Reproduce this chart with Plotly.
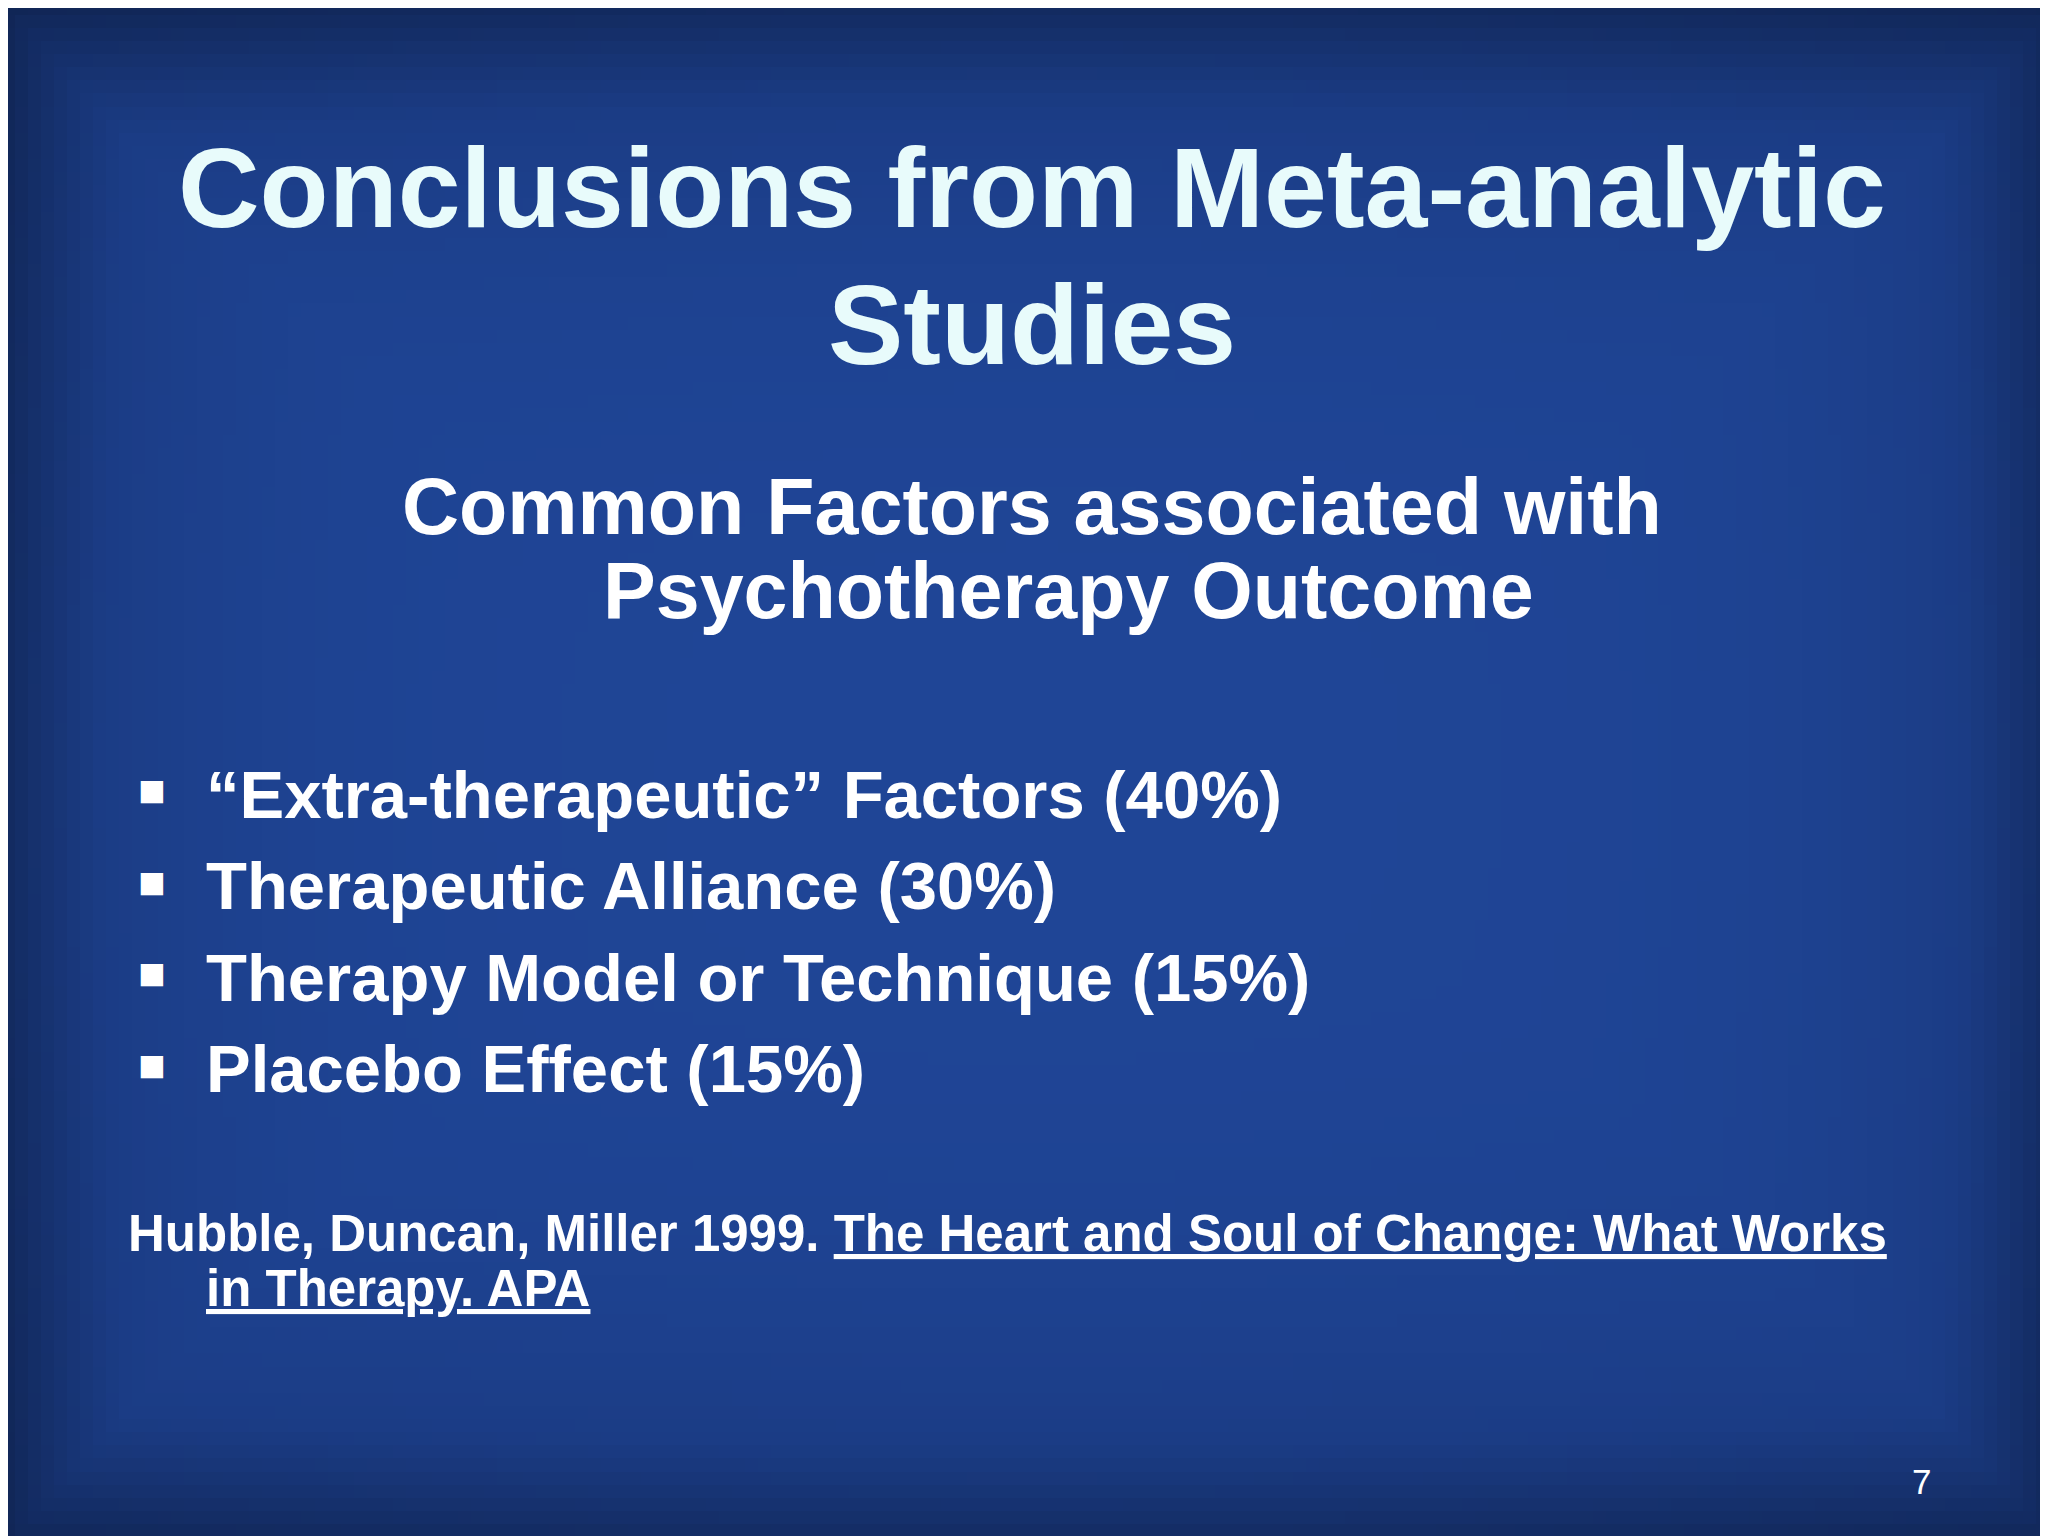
import numpy as np
import plotly.graph_objects as go

title_lines = ["Conclusions from Meta-analytic", "Studies"]
subtitle_lines = ["Common Factors associated with", "Psychotherapy Outcome"]
factors = ["“Extra-therapeutic” Factors", "Therapeutic Alliance", "Therapy Model or Technique", "Placebo Effect"]
percents = [40, 30, 15, 15]
citation_authors = "Hubble, Duncan, Miller 1999. "
citation_title_1 = "The Heart and Soul of Change: What Works"
citation_title_2 = "in Therapy. APA"
page_number = "7"

W, H = 1568, 1176
FONT = "Liberation Sans, Arial, sans-serif"

# background vignette
xs = np.linspace(-1, 1, 160)
ys = np.linspace(-1, 1, 120)
X, Y = np.meshgrid(xs, ys)
v = np.clip(np.maximum(np.abs(X) ** 6, np.abs(Y) ** 4) * 0.8 + 0.1 * (X**2 + Y**2), 0, 1)
fig = go.Figure(go.Heatmap(
    z=v, x=np.linspace(-10, W + 10, 160), y=np.linspace(-10, H + 10, 120),
    colorscale=[[0, "#1f4596"], [0.5, "#1b3c85"], [1, "#0f2350"]],
    showscale=False, hoverinfo="skip"))

ann = []
def add(text, x, y, size, color="white", xanchor="center"):
    ann.append(dict(text=text, x=x, y=y, xref="x", yref="y", showarrow=False,
                    xanchor=xanchor, yanchor="middle",
                    font=dict(family=FONT, size=size, color=color)))

TC = "#e8fbfb"
add("<b>%s</b>" % title_lines[0], 784, 138, 113, TC)
add("<b>%s</b>" % title_lines[1], 784, 243, 113, TC)
add("<b>%s</b>" % subtitle_lines[0], 784, 382, 79)
add("<b>%s</b>" % subtitle_lines[1], 812, 446, 79)
for i, (f, p) in enumerate(zip(factors, percents)):
    y = 602 + 70 * i
    add("■", 110, y - 3, 46, xanchor="center")
    add("<b>%s (%d%%)</b>" % (f, p), 150, y, 67, xanchor="left")
add("<b>%s<u>%s</u></b>" % (citation_authors, citation_title_1), 90, 938, 51, xanchor="left")
add("<b><u>%s</u></b>" % citation_title_2, 150, 980, 51, xanchor="left")
add(page_number, 1465, 1128, 35, xanchor="center")

fig.update_layout(
    width=2048, height=1536, margin=dict(l=0, r=0, t=0, b=0),
    paper_bgcolor="#0f2350", plot_bgcolor="#0f2350",
    xaxis=dict(range=[0, W], visible=False, fixedrange=True),
    yaxis=dict(range=[H, 0], visible=False, fixedrange=True),
    annotations=ann, showlegend=False)
fig.write_html("out.html")
